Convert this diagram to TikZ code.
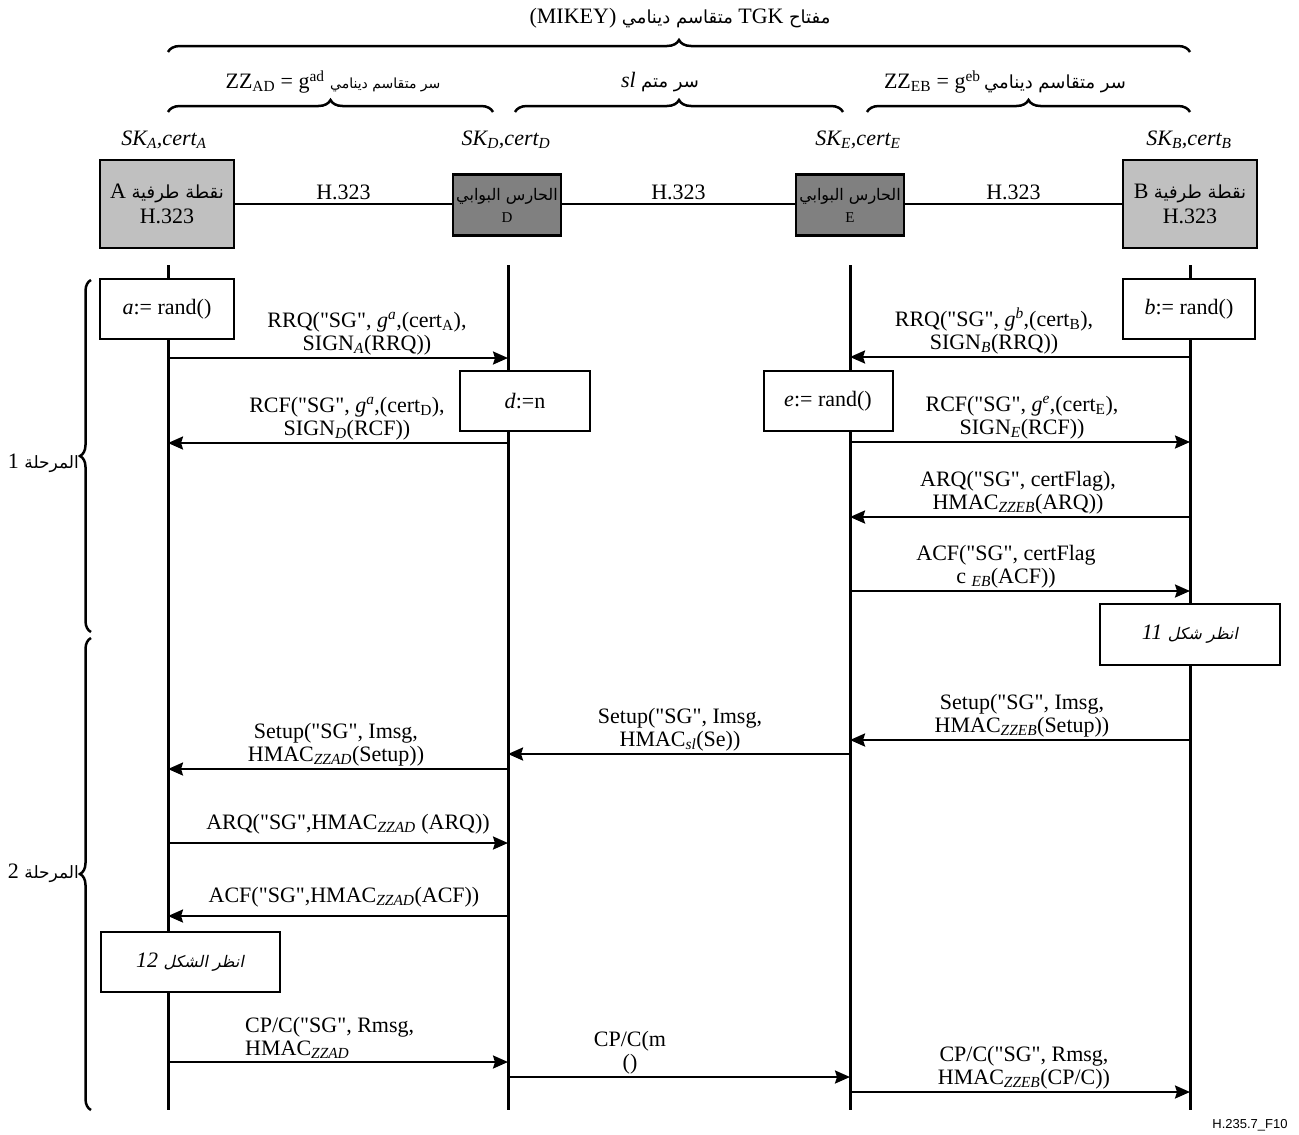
\documentclass[tikz,border=0pt]{standalone}
\usepackage{fontspec}
\setmainfont{Liberation Serif}[Ligatures=TeXOff]
\newfontfamily\arfont[Script=Arabic]{DejaVu Sans}
\newfontfamily\arslfont[Script=Arabic,FakeSlant=0.2]{DejaVu Sans}
\newfontfamily\tagsans{Liberation Sans}
\TeXXeTstate=1
\usetikzlibrary{arrows.meta,decorations.pathreplacing}

% Arabic font switches at a given size
\newcommand{\arsz}[1]{\fontsize{#1}{#1}\selectfont\arfont}
\newcommand{\arslsz}[1]{\fontsize{#1}{#1}\selectfont\arslfont}
\newcommand{\msgfont}{\fontsize{22}{23}\selectfont}

\definecolor{lightbox}{HTML}{C0C0C0}
\definecolor{darkbox}{HTML}{808080}

\begin{document}
\begin{tikzpicture}[x=1pt,y=-1pt,
  endpt/.style={draw,line width=2.5pt,fill=lightbox,minimum width=134pt,minimum height=88pt,
    align=center,inner sep=0pt,font=\msgfont},
  gk/.style={draw,line width=2.5pt,fill=darkbox,minimum width=108pt,minimum height=61pt,
    align=center,inner sep=0pt,font=\fontsize{15}{22}\selectfont},
  act/.style={draw,line width=2pt,fill=white,minimum height=60pt,inner sep=0pt,font=\msgfont},
  lab/.style={inner sep=1pt,align=center,font=\msgfont},
  skl/.style={inner sep=0pt,font=\msgfont\itshape},
  life/.style={line width=3pt},
  link/.style={line width=2.5pt},
  msg/.style={line width=2.3pt,-{Stealth[length=15pt,width=13pt,inset=2pt]}},
  brc/.style={line width=2.5pt,decorate,decoration={brace,amplitude=#1}},
  brc/.default=12pt]
\useasboundingbox (0,0) rectangle (1299,1135);

% ---- key braces at the top ----
\node[lab] (ktop) at (680,18) {(MIKEY) {\arsz{18pt}\beginR متقاسم دينامي\endR} TGK {\arsz{18pt}\beginR مفتاح\endR}};
\draw[brc] (168,52) -- (1190,52);
\node[lab] (kad) at (333,82) {ZZ\textsubscript{AD} = g\textsuperscript{ad} {\arsz{14pt}\beginR سر متقاسم دينامي\endR}};
\node[lab] (ksl) at (660,82) {\textit{sl} {\arsz{18pt}\beginR سر متم\endR}};
\node[lab] (keb) at (1005,82) {ZZ\textsubscript{EB} = g\textsuperscript{eb}\,{\arsz{18pt}\beginR سر متقاسم دينامي\endR}};
\draw[brc] (168,112) -- (493,112);
\draw[brc] (515,112) -- (843,112);
\draw[brc] (867,112) -- (1190,112);

% ---- entities ----
\node[skl] (skA) at (164,140) {SK\textsubscript{A},cert\textsubscript{A}};
\node[skl] (skD) at (506,140) {SK\textsubscript{D},cert\textsubscript{D}};
\node[skl] (skE) at (858,140) {SK\textsubscript{E},cert\textsubscript{E}};
\node[skl] (skB) at (1189,140) {SK\textsubscript{B},cert\textsubscript{B}};

\node[endpt] (A) at (167,204) {A {\arsz{18pt}\beginR نقطة طرفية\endR}\\[2pt]H.323};
\node[gk] (D) at (507,205) {{\arsz{16pt}\beginR الحارس البوابي\endR}\\D};
\node[gk] (E) at (850,205) {{\arsz{16pt}\beginR الحارس البوابي\endR}\\E};
\node[endpt] (B) at (1190,204) {B {\arsz{18pt}\beginR نقطة طرفية\endR}\\[2pt]H.323};

\draw[link] (A.east |- 0,204) -- node[lab,above=2pt] (hAD) {H.323} (D.west |- 0,204);
\draw[link] (D.east |- 0,204) -- node[lab,above=2pt] (hDE) {H.323} (E.west |- 0,204);
\draw[link] (E.east |- 0,204) -- node[lab,above=2pt] (hEB) {H.323} (B.west |- 0,204);

% ---- lifelines ----
\coordinate (tA) at (168,265); \coordinate (bA) at (168,1110);
\coordinate (tD) at (508,265); \coordinate (bD) at (508,1110);
\coordinate (tE) at (850,265); \coordinate (bE) at (850,1110);
\coordinate (tB) at (1190,265); \coordinate (bB) at (1190,1110);
\draw[life] (tA) -- (bA);
\draw[life] (tD) -- (bD);
\draw[life] (tE) -- (bE);
\draw[life] (tB) -- (bB);

% ---- phase braces ----
\draw[brc=11pt] (91,632) -- (91,280);
\node[lab,anchor=east] (ph1) at (80,463) {1 {\arsz{17pt}\beginR المرحلة\endR}};
\draw[brc=11pt] (91,1110) -- (91,638);
\node[lab,anchor=east] (ph2) at (80,873) {2 {\arsz{17pt}\beginR المرحلة\endR}};

% ---- local actions ----
\node[act,minimum width=134pt] (ra) at (167,309) {\textit{a}:= rand()};
\node[act,minimum width=132pt] (rb) at (1189,309) {\textit{b}:= rand()};
\node[act,minimum width=130pt] (rd) at (525,401) {\textit{d}:=n};
\node[act,minimum width=129pt] (re) at (828,401) {\textit{e}:= rand()};

% ---- phase 1 messages ----
\draw[msg] (tA |- 0,358) -- (tD |- 0,358);
\node[lab,anchor=south] (m1) at (367,356) {RRQ("SG", \textit{g}\textsuperscript{\textit{a}},(cert\textsubscript{A}),\\SIGN\textsubscript{\textit{A}}(RRQ))};
\draw[msg] (tD |- 0,443) -- (tA |- 0,443);
\node[lab,anchor=south] (m2) at (347,441) {RCF("SG", \textit{g}\textsuperscript{\textit{a}},(cert\textsubscript{D}),\\SIGN\textsubscript{\textit{D}}(RCF))};
\draw[msg] (tB |- 0,357) -- (tE |- 0,357);
\node[lab,anchor=south] (m3) at (994,355) {RRQ("SG", \textit{g}\textsuperscript{\textit{b}},(cert\textsubscript{B}),\\SIGN\textsubscript{\textit{B}}(RRQ))};
\draw[msg] (tE |- 0,442) -- (tB |- 0,442);
\node[lab,anchor=south] (m4) at (1022,440) {RCF("SG", \textit{g}\textsuperscript{\textit{e}},(cert\textsubscript{E}),\\SIGN\textsubscript{\textit{E}}(RCF))};
\draw[msg] (tB |- 0,517) -- (tE |- 0,517);
\node[lab,anchor=south] (m5) at (1018,515) {ARQ("SG", certFlag),\\HMAC\textsubscript{\textit{ZZEB}}(ARQ))};
\draw[msg] (tE |- 0,591) -- (tB |- 0,591);
\node[lab,anchor=south] (m6) at (1006,589) {ACF("SG", certFlag\\c \textsubscript{\textit{EB}}(ACF))};

\node[act,minimum width=180pt,minimum height=61pt] (see11) at (1190,634) {\textit{11} {\arslsz{16pt}\beginR انظر شكل\endR}};

% ---- phase 2 messages ----
\draw[msg] (tB |- 0,740) -- (tE |- 0,740);
\node[lab,anchor=south] (m7) at (1022,738) {Setup("SG", Imsg,\\HMAC\textsubscript{\textit{ZZEB}}(Setup))};
\draw[msg] (tE |- 0,754) -- (tD |- 0,754);
\node[lab,anchor=south] (m8) at (680,752) {Setup("SG", Imsg,\\HMAC\textsubscript{\textit{sl}}(Se))};
\draw[msg] (tD |- 0,769) -- (tA |- 0,769);
\node[lab,anchor=south] (m9) at (336,767) {Setup("SG", Imsg,\\HMAC\textsubscript{\textit{ZZAD}}(Setup))};
\draw[msg] (tA |- 0,843) -- (tD |- 0,843);
\node[lab,anchor=south] (m10) at (348,835) {ARQ("SG",HMAC\textsubscript{\textit{ZZAD}} (ARQ))};
\draw[msg] (tD |- 0,916) -- (tA |- 0,916);
\node[lab,anchor=south] (m11) at (344,908) {ACF("SG",HMAC\textsubscript{\textit{ZZAD}}(ACF))};

\node[act,minimum width=179pt,minimum height=60pt] (see12) at (190,962) {\textit{12} {\arslsz{16pt}\beginR انظر الشكل\endR}};

\draw[msg] (tA |- 0,1062) -- (tD |- 0,1062);
\node[lab,anchor=south west,align=left] (m12) at (244,1060) {CP/C("SG", Rmsg,\\HMAC\textsubscript{\textit{ZZAD}}};
\draw[msg] (tD |- 0,1077) -- (tE |- 0,1077);
\node[lab,anchor=south] (m13) at (630,1075) {CP/C(m\\()};
\draw[msg] (tE |- 0,1092) -- (tB |- 0,1092);
\node[lab,anchor=south] (m14) at (1024,1090) {CP/C("SG", Rmsg,\\HMAC\textsubscript{\textit{ZZEB}}(CP/C))};

\node[inner sep=0pt,font=\fontsize{13}{13}\selectfont\tagsans] (fig) at (1250,1125) {H.235.7\_F10};
\end{tikzpicture}
\end{document}
